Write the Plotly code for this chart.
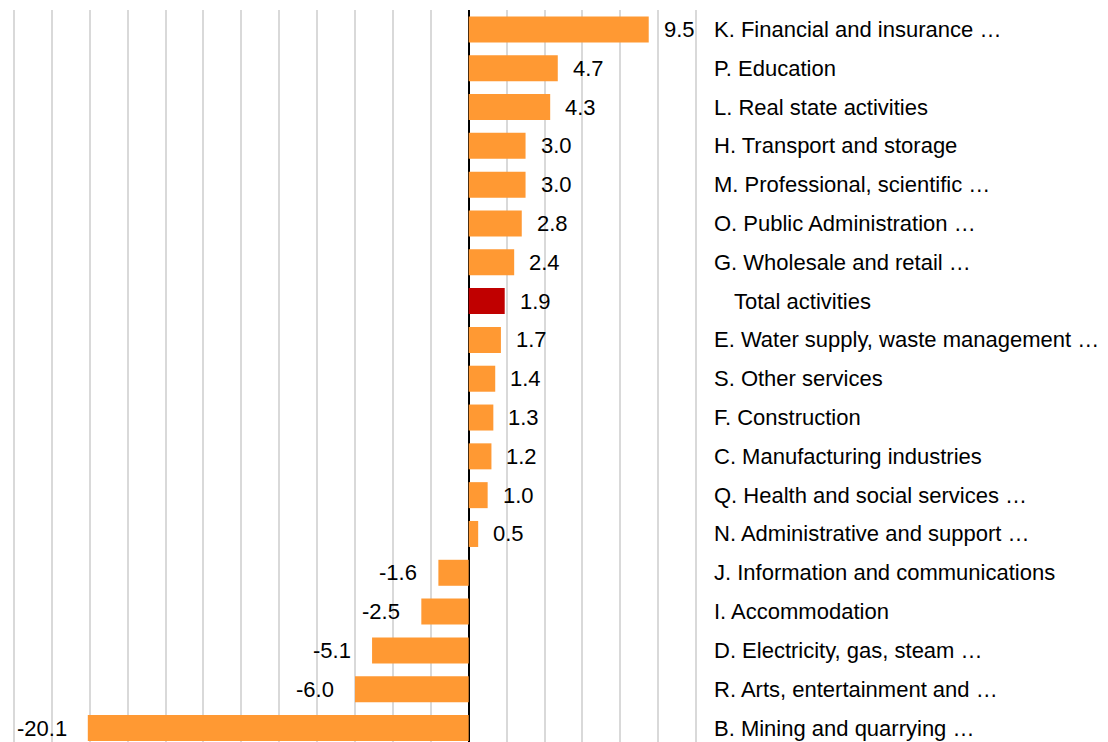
import plotly.graph_objects as go

categories = [
    "K. Financial and insurance …",
    "P. Education",
    "L. Real state activities",
    "H. Transport and storage",
    "M. Professional, scientific …",
    "O. Public Administration …",
    "G. Wholesale and retail …",
    "Total activities",
    "E. Water supply, waste management …",
    "S. Other services",
    "F. Construction",
    "C. Manufacturing industries",
    "Q. Health and social services …",
    "N. Administrative and support …",
    "J. Information and communications",
    "I. Accommodation",
    "D. Electricity, gas, steam …",
    "R. Arts, entertainment and …",
    "B. Mining and quarrying …",
]
values = [9.5, 4.7, 4.3, 3.0, 3.0, 2.8, 2.4, 1.9, 1.7, 1.4, 1.3, 1.2, 1.0, 0.5,
          -1.6, -2.5, -5.1, -6.0, -20.1]
total_label = "Total activities"

ORANGE = "#FF9933"
RED = "#C00000"
FONT = "Liberation Sans, Arial, sans-serif"
FS = 22

idx = list(range(len(categories)))
colors = [RED if c == total_label else ORANGE for c in categories]

fig = go.Figure()
fig.add_trace(go.Bar(
    x=values, y=idx, orientation="h",
    marker=dict(color=colors, line=dict(width=0)),
    width=0.67, hoverinfo="x",
))

LABEL_X = 1.0204  # paper position of the category label column
ann = []
for i, (c, v) in enumerate(zip(categories, values)):
    ann.append(dict(
        x=v, y=i, xref="x", yref="y", text=f"{v:.1f}", showarrow=False,
        xanchor="left" if v >= 0 else "right",
        xshift=13 if v >= 0 else -19,
        font=dict(family=FONT, size=FS, color="#000000"),
    ))
    ann.append(dict(
        x=LABEL_X, y=i, xref="paper", yref="y", text=c, showarrow=False,
        xanchor="left", xshift=20 if c == total_label else 0,
        font=dict(family=FONT, size=FS, color="#000000"),
    ))

fig.update_layout(
    width=1108, height=742,
    margin=dict(l=12, r=410, t=10, b=0, autoexpand=False),
    paper_bgcolor="white", plot_bgcolor="white",
    showlegend=False,
    annotations=ann,
    xaxis=dict(range=[-24.1, 12.1], dtick=2, tick0=0, showgrid=True,
               gridcolor="#D9D9D9", gridwidth=1.5, showticklabels=False,
               ticks="", zeroline=True, zerolinecolor="#000000",
               zerolinewidth=2, showline=False),
    yaxis=dict(range=[18.36, -0.5], showgrid=False, showticklabels=False,
               ticks="", zeroline=False, showline=False),
    font=dict(family=FONT, size=FS, color="#000000"),
)

fig.write_html("out.html", config={"displayModeBar": False},
               post_script="document.body.style.margin='0';document.body.style.overflow='hidden';")
